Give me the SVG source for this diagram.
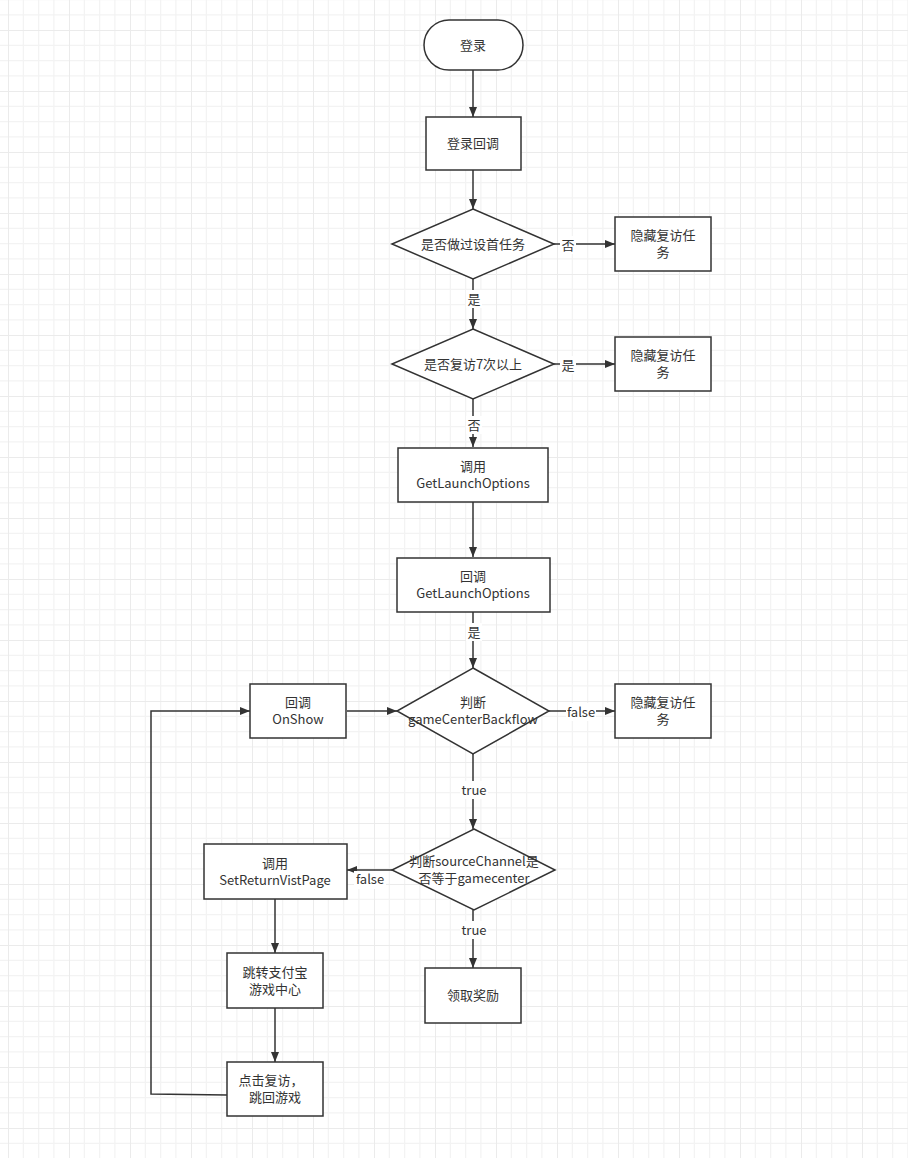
<svg xmlns="http://www.w3.org/2000/svg" width="908" height="1158" viewBox="0 0 908 1158">
<defs>
<pattern id="grid" patternUnits="userSpaceOnUse" x="8" y="30" width="61" height="61">
<rect width="61" height="61" fill="#ffffff"/>
<g fill="#f3f3f3">
<rect x="14.75" y="0" width="1.2" height="61"/>
<rect x="30" y="0" width="1.2" height="61"/>
<rect x="45.25" y="0" width="1.2" height="61"/>
<rect x="0" y="14.75" width="61" height="1.2"/>
<rect x="0" y="30" width="61" height="1.2"/>
<rect x="0" y="45.25" width="61" height="1.2"/>
</g>
<g fill="#ebebeb">
<rect x="-0.5" y="0" width="1.5" height="61"/>
<rect x="0" y="-0.5" width="61" height="1.5"/>
</g>
</pattern>
<marker id="arr" viewBox="0 0 10 10" refX="10" refY="5" markerWidth="10" markerHeight="10" markerUnits="userSpaceOnUse" orient="auto">
<path d="M0,1 L10,5 L0,9 Z" fill="#333333"/>
</marker>
</defs>
<style>
.n{fill:#ffffff;stroke:#333333;stroke-width:1.5}
.t{font-family:"Noto Sans CJK SC","Liberation Sans",sans-serif;font-size:13px;fill:#333333;text-anchor:middle}
.e{fill:none;stroke:#333333;stroke-width:1.5;marker-end:url(#arr)}
.lb{fill:#ffffff}
</style>
<rect width="908" height="1158" fill="url(#grid)"/>

<g id="connectors">
<path class="e" d="M473,70 L473,117"/>
<path class="e" d="M473,170 L473,209"/>
<path class="e" d="M473,279 L473,329"/>
<path class="e" d="M554,244 L615,244"/>
<path class="e" d="M554,364 L615,364"/>
<path class="e" d="M473,399 L473,447"/>
<path class="e" d="M473,502 L473,557"/>
<path class="e" d="M473,612 L473,668"/>
<path class="e" d="M549,711 L615,711"/>
<path class="e" d="M347,711 L397,711"/>
<path class="e" d="M473,754 L473,829"/>
<path class="e" d="M392,870 L347,870"/>
<path class="e" d="M473,910 L473,968"/>
<path class="e" d="M275,899 L275,953"/>
<path class="e" d="M275,1008 L275,1062"/>
<path class="e" d="M227,1095 L151,1094 L151,711 L250,711"/>
<g id="edge-labels">
<rect class="lb" x="560" y="236" width="16" height="18"/>
<text class="t" x="568" y="250">否</text>
<rect class="lb" x="466" y="290" width="16" height="18"/>
<text class="t" x="474" y="304">是</text>
<rect class="lb" x="560" y="356" width="16" height="18"/>
<text class="t" x="568" y="370">是</text>
<rect class="lb" x="466" y="416" width="16" height="18"/>
<text class="t" x="474" y="430">否</text>
<rect class="lb" x="466" y="623" width="16" height="18"/>
<text class="t" x="474" y="637">是</text>
<rect class="lb" x="566" y="703" width="30" height="18"/>
<text class="t" x="581" y="717">false</text>
<rect class="lb" x="460" y="781" width="28" height="18"/>
<text class="t" x="474" y="795">true</text>
<rect class="lb" x="354" y="871" width="32" height="18"/>
<text class="t" x="370" y="884">false</text>
<rect class="lb" x="460" y="921" width="28" height="18"/>
<text class="t" x="474" y="935">true</text>
</g>
</g>

<g id="n-login">
<rect class="n" x="424" y="20" width="99" height="50" rx="25" ry="25"/>
<text class="t" x="473" y="50">登录</text>
</g>
<g id="n-login-cb">
<rect class="n" x="426" y="117" width="95" height="53"/>
<text class="t" x="473" y="148">登录回调</text>
</g>
<g id="n-d1">
<path class="n" d="M473,209 L554,244 L473,279 L392,244 Z"/>
<text class="t" x="473" y="249">是否做过设首任务</text>
</g>
<g id="n-hide1">
<rect class="n" x="615" y="217" width="96" height="54"/>
<text class="t" x="663" y="240">隐藏复访任</text>
<text class="t" x="663" y="257">务</text>
</g>
<g id="n-d2">
<path class="n" d="M473,329 L554,364 L473,399 L392,364 Z"/>
<text class="t" x="473" y="369">是否复访7次以上</text>
</g>
<g id="n-hide2">
<rect class="n" x="615" y="337" width="96" height="54"/>
<text class="t" x="663" y="360">隐藏复访任</text>
<text class="t" x="663" y="377">务</text>
</g>
<g id="n-call-glo">
<rect class="n" x="398" y="448" width="150" height="54"/>
<text class="t" x="473" y="471">调用</text>
<text class="t" x="473" y="488">GetLaunchOptions</text>
</g>
<g id="n-cb-glo">
<rect class="n" x="397" y="558" width="153" height="54"/>
<text class="t" x="473" y="581">回调</text>
<text class="t" x="473" y="598">GetLaunchOptions</text>
</g>
<g id="n-d3">
<path class="n" d="M473,668 L549,711 L473,754 L397,711 Z"/>
<text class="t" x="473" y="707">判断</text>
<text class="t" x="473" y="724">gameCenterBackflow</text>
</g>
<g id="n-hide3">
<rect class="n" x="615" y="684" width="96" height="54"/>
<text class="t" x="663" y="707">隐藏复访任</text>
<text class="t" x="663" y="724">务</text>
</g>
<g id="n-onshow">
<rect class="n" x="250" y="684" width="96" height="54"/>
<text class="t" x="298" y="707">回调</text>
<text class="t" x="298" y="724">OnShow</text>
</g>
<g id="n-d4">
<path class="n" d="M474,829 L555,870 L474,910 L392,870 Z"/>
<text class="t" x="474" y="866">判断sourceChannel是</text>
<text class="t" x="474" y="883">否等于gamecenter</text>
</g>
<g id="n-setreturn">
<rect class="n" x="204" y="844" width="143" height="55"/>
<text class="t" x="275" y="868">调用</text>
<text class="t" x="275" y="885">SetReturnVistPage</text>
</g>
<g id="n-reward">
<rect class="n" x="425" y="968" width="96" height="55"/>
<text class="t" x="473" y="1000">领取奖励</text>
</g>
<g id="n-jump">
<rect class="n" x="227" y="953" width="96" height="55"/>
<text class="t" x="275" y="977">跳转支付宝</text>
<text class="t" x="275" y="994">游戏中心</text>
</g>
<g id="n-click">
<rect class="n" x="227" y="1062" width="96" height="54"/>
<text class="t" x="271" y="1085">点击复访，</text>
<text class="t" x="275" y="1102">跳回游戏</text>
</g>
</svg>
